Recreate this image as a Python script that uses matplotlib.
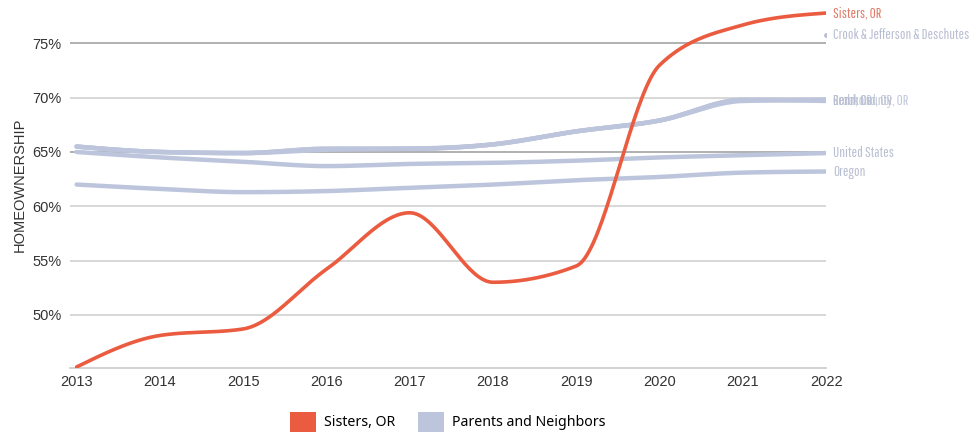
import numpy as np
import matplotlib.pyplot as plt
from matplotlib.patches import Patch

years = [2013, 2014, 2015, 2016, 2017, 2018, 2019, 2020, 2021, 2022]

sisters = [45.2, 48.1, 48.7, 54.2, 59.4, 53.0, 54.5, 73.0, 76.7, 77.8]

parents = {
    'Bend, OR':         [65.5, 65.0, 64.9, 65.3, 65.3, 65.7, 66.9, 67.9, 69.8, 69.8],
    'Redmond, OR':      [65.5, 65.0, 64.9, 65.3, 65.3, 65.7, 66.9, 67.9, 69.7, 69.8],
    'Crook County, OR': [65.5, 65.0, 64.9, 65.2, 65.3, 65.7, 66.9, 67.9, 69.8, 69.7],
    'United States':    [65.0, 64.5, 64.1, 63.7, 63.9, 64.0, 64.2, 64.5, 64.7, 64.9],
    'Oregon':           [62.0, 61.6, 61.3, 61.4, 61.7, 62.0, 62.4, 62.7, 63.1, 63.2],
}
tri_county_label = 'Crook & Jefferson & Deschutes'
tri_county_2022 = 75.8

yticks = [50, 55, 60, 65, 70, 75]

RED = '#ea5b3f'
BLUE = '#bcc5dc'
LABEL_BLUE = '#b8bfd2'
LABEL_RED = '#e07a66'


def monotone(x, y, n=40):
    # monotone cubic (same as d3.curveMonotoneX)
    x = np.asarray(x, float)
    y = np.asarray(y, float)
    h = np.diff(x)
    s = np.diff(y) / h
    t = np.zeros_like(y)
    for i in range(1, len(y) - 1):
        p = (s[i - 1] * h[i] + s[i] * h[i - 1]) / (h[i - 1] + h[i])
        t[i] = (np.sign(s[i - 1]) + np.sign(s[i])) * min(abs(s[i - 1]), abs(s[i]), 0.5 * abs(p))
    t[0] = (3 * s[0] - t[1]) / 2
    t[-1] = (3 * s[-1] - t[-2]) / 2
    xs, ys = [], []
    for i in range(len(h)):
        u = np.linspace(0, 1, n)
        h00 = 2 * u**3 - 3 * u**2 + 1
        h10 = u**3 - 2 * u**2 + u
        h01 = -2 * u**3 + 3 * u**2
        h11 = u**3 - u**2
        xs.append(x[i] + u * h[i])
        ys.append(h00 * y[i] + h10 * h[i] * t[i] + h01 * y[i + 1] + h11 * h[i] * t[i + 1])
    return np.concatenate(xs), np.concatenate(ys)


fig = plt.figure(figsize=(9.8, 4.34), dpi=100)
ax = fig.add_axes([0.0714, 0.152, 0.7716, 0.848])

for yv in yticks:
    c = '#aaaaaa' if yv in (65, 75) else '#d4d4d4'
    ax.axhline(yv, color=c, lw=1.3, zorder=1)

for name, vals in parents.items():
    xs, ys = monotone(years, vals)
    ax.plot(xs, ys, color=BLUE, lw=3.2, solid_capstyle='round', zorder=2)

xs, ys = monotone(years, sisters)
ax.plot(xs, ys, color=RED, lw=2.6, solid_capstyle='round', zorder=3)

ax.plot([years[-1]], [tri_county_2022], 'o', color=LABEL_BLUE, ms=2.5, zorder=3)

# end-of-line labels
lab_font = dict(family=['Pathway Gothic One', 'DejaVu Sans'], fontsize=10.5,
                va='center', ha='left', clip_on=False)
ax.annotate('Sisters, OR', (years[-1], sisters[-1]), xytext=(5, 0), textcoords='offset points',
            color=LABEL_RED, **lab_font)
ax.annotate(tri_county_label, (years[-1], tri_county_2022), xytext=(5, 0),
            textcoords='offset points', color=LABEL_BLUE, **lab_font)
for name in ['Bend, OR', 'Redmond, OR', 'Crook County, OR']:
    ax.annotate(name, (years[-1], parents[name][-1]), xytext=(5, 0), textcoords='offset points',
                color=LABEL_BLUE, alpha=0.85, **lab_font)
for name in ['United States', 'Oregon']:
    ax.annotate(name, (years[-1], parents[name][-1]), xytext=(5, 0), textcoords='offset points',
                color=LABEL_BLUE, **lab_font)

ax.set_xlim(2012.92, 2022)
ax.set_ylim(45.1, 79)
ax.set_xticks(years)
ax.set_xticklabels([str(y) for y in years])
ax.set_yticks(yticks)
ax.set_yticklabels([f'{v}%' for v in yticks])
ax.tick_params(length=0, labelsize=10.5, labelcolor='#333333', pad=6)
ax.tick_params(axis='x', pad=5)
for lbl in ax.get_xticklabels() + ax.get_yticklabels():
    lbl.set_family('Liberation Sans')
for sp in ['top', 'right', 'left']:
    ax.spines[sp].set_visible(False)
ax.spines['bottom'].set_color('#cfcfcf')
ax.spines['bottom'].set_linewidth(1.3)

fig.text(0.02, 0.575, 'HOMEOWNERSHIP', rotation=90, ha='center', va='center',
         fontsize=10.5, color='#333333', family='Liberation Sans')

handles = [Patch(facecolor=RED, label='Sisters, OR'),
           Patch(facecolor=BLUE, label='Parents and Neighbors')]
fig.legend(handles=handles, loc='lower center', bbox_to_anchor=(0.457, -0.025), ncol=2,
           frameon=False, handlelength=1.85, handleheight=1.85,
           handletextpad=0.55, columnspacing=1.6,
           prop={'family': 'Noto Sans', 'size': 10.2})

fig.savefig('out.png', dpi=100)
